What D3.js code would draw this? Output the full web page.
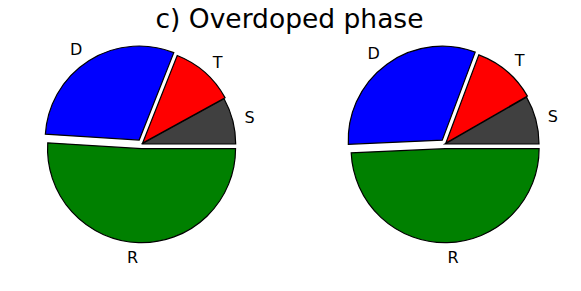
<!DOCTYPE html>
<html>
<head>
  <script src="https://cdn.jsdelivr.net/npm/d3@7"></script>
  <style>
    html, body { margin: 0; padding: 0; background: #fff; }
    svg { display: block; }
    text { font-family: "DejaVu Sans", sans-serif; fill: #000; }
  </style>
</head>
<body>
  <svg class="svg" width="581" height="291"></svg>
  <script>
    var title = "c) Overdoped phase";
    var categories = ["S", "T", "D", "R"];
    var leftValues = [8.0, 11.0, 30.0, 51.0];
    var rightValues = [8.3, 11.0, 31.4, 49.3];

    var colors = d3.scaleOrdinal()
      .domain(categories)
      .range(["#404040", "#ff0000", "#0000ff", "#008000"]);

    var explode = { S: 0, T: 0.015, D: 0.05, R: 0.05 };

    var svg = d3.select('.svg');
    var radius = 94;

    svg.append("text")
      .attr("x", 289.5)
      .attr("y", 28)
      .attr("text-anchor", "middle")
      .style("font-size", "26.5px")
      .text(title);

    // matplotlib style: counter-clockwise from 3 o'clock
    var pie = d3.pie()
      .sort(null)
      .value(d => d.value)
      .startAngle(Math.PI / 2)
      .endAngle(Math.PI / 2 - 2 * Math.PI);

    var arc = d3.arc()
      .innerRadius(0)
      .outerRadius(radius);

    function drawPie(cx, cy, values) {
      var data = categories.map((c, i) => ({ name: c, value: values[i] }));
      var g = svg.append("g")
        .attr("transform", `translate(${cx},${cy})`);

      var slices = pie(data);
      slices.forEach(s => {
        s.mid = (s.startAngle + s.endAngle) / 2;
        s.ux = Math.sin(s.mid);
        s.uy = -Math.cos(s.mid);
        s.ex = explode[s.data.name];
      });

      g.selectAll("path.wedge")
        .data(slices)
        .enter()
        .append("path")
        .classed("wedge", true)
        .attr("transform", d => `translate(${d.ux * d.ex * radius},${d.uy * d.ex * radius})`)
        .attr("d", arc)
        .attr("fill", d => colors(d.data.name))
        .attr("stroke", "#000")
        .attr("stroke-width", 1.2)
        .attr("stroke-linejoin", "miter");

      var fs = 16;
      g.selectAll("text.lbl")
        .data(slices)
        .enter()
        .append("text")
        .classed("lbl", true)
        .attr("x", d => d.ux * (1.13 + d.ex) * radius)
        .attr("y", d => d.uy * (1.15 + d.ex) * radius + fs * 0.36)
        .attr("text-anchor", d => d.ux >= 0 ? "start" : "end")
        .style("font-size", fs + "px")
        .text(d => d.data.name);
    }

    drawPie(141.7, 144, leftValues);
    drawPie(445, 144, rightValues);
  </script>
</body>
</html>
